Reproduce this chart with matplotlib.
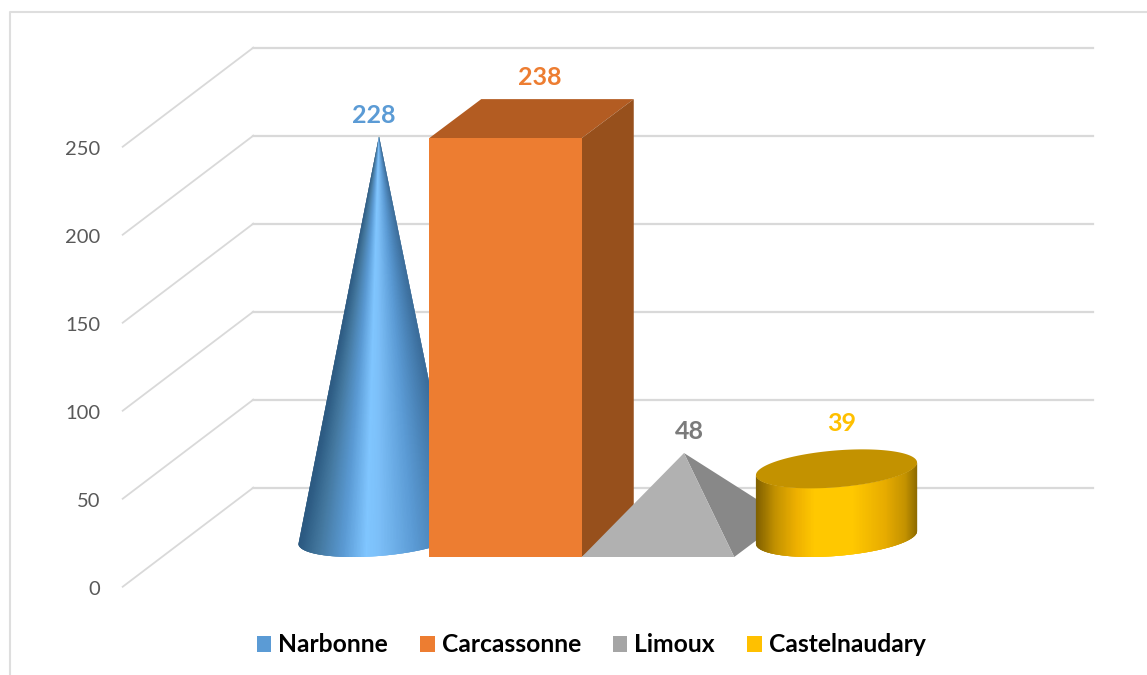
import numpy as np
import matplotlib
matplotlib.use('Agg')
import matplotlib.pyplot as plt
from matplotlib.collections import PolyCollection
from matplotlib.colors import LinearSegmentedColormap
from matplotlib.lines import Line2D
from matplotlib.patches import Patch, Polygon

# data
villes = ['Narbonne', 'Carcassonne', 'Limoux', 'Castelnaudary']
valeurs = [228, 238, 48, 39]
ticks = [0, 50, 100, 150, 200, 250]

# colours
couleurs_legende = ['#5b9bd5', '#ed7d31', '#a5a5a5', '#ffc000']
couleurs_label = ['#5b9bd5', '#ed7d31', '#7b7b7b', '#ffc000']
gris_grille = '#d9d9d9'

W, H = 1147, 675
# pixels for one category / one unit, and where category 0, value 0 falls
PX_CAT, PX_VAL = 152.5, 1.76
X0, Y0 = 353, 557
# depth of the 3d box in data units
DX = 52 / PX_CAT
DY = 39 / PX_VAL

plt.rcParams['font.family'] = ['Lato', 'DejaVu Sans']

fig = plt.figure(figsize=(W / 100, H / 100), dpi=100)
ax = fig.add_axes([0, 0, 1, 1])
ax.set_xlim(-X0 / PX_CAT, (W - X0) / PX_CAT)
ax.set_ylim((Y0 - H) / PX_VAL, Y0 / PX_VAL)
ax.axis('off')

# chart frame, open on the right and the bottom
fig.add_artist(Line2D([10 / W, 10 / W, 1], [0, 1 - 12 / H, 1 - 12 / H], color='#dedede', lw=1.5))

# walls
gx_front = (122.7 - X0) / PX_CAT
gx_back = (253.3 - X0) / PX_CAT
gx_end = (1093 - X0) / PX_CAT
gy_front = -16.9
gy_back = 39.4
for t in ticks:
    ax.plot([gx_front, gx_back], [t + gy_front, t + gy_back], color=gris_grille, lw=1.3, zorder=1)
    ax.plot([gx_back, gx_end], [t + gy_back, t + gy_back], color=gris_grille, lw=1.6, zorder=1)
    ax.annotate(str(t), (gx_front, t + gy_front), xytext=(-16, -2.2), textcoords='offset points',
                ha='right', va='center', fontsize=14.5, color='#595959')


def ellipse(cat, y, t):
    # circle seen in the same oblique view as the box
    return cat + DX / 2 + 0.5 * np.cos(t) + DX / 2 * np.sin(t), y + DY / 2 + DY / 2 * np.sin(t)


cone_cmap = LinearSegmentedColormap.from_list('cone', [
    (0, '#2a5880'), (0.12, '#44789f'), (0.28, '#5b9bd5'), (0.42, '#80c6ff'),
    (0.5, '#7cbff8'), (0.72, '#5b9bd5'), (1, '#3a6c9a')])
cyl_cmap = LinearSegmentedColormap.from_list('cyl', [
    (0, '#806000'), (0.12, '#c39200'), (0.25, '#eeb000'), (0.36, '#ffc800'),
    (0.6, '#ffc800'), (0.8, '#e8ac00'), (0.93, '#c39200'), (1, '#8f6c00')])

t0 = np.arctan2(DX / 2, 0.5)
angles = np.linspace(np.pi + t0, 2 * np.pi + t0, 160)
ex, ey = ellipse(0, 0, angles)
part = (ex - ex.min()) / (ex.max() - ex.min())
part = (part[:-1] + part[1:]) / 2
n = len(angles)

# Narbonne : cone, each piece overlaps the next ones so no seams show
c, v = 0, valeurs[0]
ex, ey = ellipse(c, 0, angles)
tri = [[(c + DX / 2, v + DY / 2)] + list(zip(ex[i:min(i + 4, n)], ey[i:min(i + 4, n)])) for i in range(n - 1)]
ax.add_collection(PolyCollection(tri, facecolors=cone_cmap(part), edgecolors='none', zorder=2))

# Carcassonne : box
c, v = 1, valeurs[1]
g, d = c - 0.5, c + 0.5
ax.add_patch(Polygon([(g, v), (d, v), (d + DX, v + DY), (g + DX, v + DY)], fc='#b35c22', ec='none', zorder=3))
ax.add_patch(Polygon([(d, 0), (d + DX, DY), (d + DX, v + DY), (d, v)], fc='#97501c', ec='none', zorder=3))
ax.add_patch(Polygon([(g, 0), (d, 0), (d, v), (g, v)], fc='#ed7d31', ec='none', zorder=3))

# Limoux : pyramid
c, v = 2, valeurs[2]
g, d = c - 0.5, c + 0.5
sommet = (c + DX / 2, v + DY / 2)
ax.add_patch(Polygon([(d, 0), (d + DX, DY), sommet], fc='#888888', ec='none', zorder=4))
ax.add_patch(Polygon([(g, 0), (d, 0), sommet], fc='#b1b1b1', ec='none', zorder=4))

# Castelnaudary : cylinder, same overlap trick
c, v = 3, valeurs[3]
ex, ey = ellipse(c, 0, angles)
quad = []
for i in range(n - 1):
    j = min(i + 4, n)
    quad.append(list(zip(ex[i:j], ey[i:j])) + list(zip(ex[i:j][::-1], ey[i:j][::-1] + v)))
ax.add_collection(PolyCollection(quad, facecolors=cyl_cmap(part), edgecolors='none', zorder=5))
tx, ty = ellipse(c, v, np.linspace(0, 2 * np.pi, 200))
ax.add_patch(Polygon(np.column_stack([tx, ty]), fc='#c39200', ec='none', zorder=6))

# value labels, offset in points from the top of each shape
tops = [(0 + DX / 2, valeurs[0] + DY / 2), (1 + DX / 2, valeurs[1] + DY),
        (2 + DX / 2, valeurs[2] + DY / 2), (3 + DX / 2, valeurs[3] + DY / 2)]
offsets = [(-3.6, 14.8), (5.8, 15.6), (3.6, 15.3), (3.6, 32.6)]
for i in range(4):
    ax.annotate(str(valeurs[i]), tops[i], xytext=offsets[i], textcoords='offset points',
                ha='center', va='center', fontsize=18, fontweight='bold', color=couleurs_label[i], zorder=7)

handles = [Patch(fc=couleurs_legende[i], ec='none', label=villes[i]) for i in range(4)]
leg = fig.legend(handles=handles, loc='center', bbox_to_anchor=(591 / W, 1 - 645 / H), ncol=4, frameon=False,
                 prop={'size': 17.7, 'weight': 'bold'}, handlelength=0.6, handleheight=0.6,
                 handletextpad=0.28, columnspacing=1.3, borderpad=0, borderaxespad=0)
for txt in leg.get_texts():
    txt.set_color('black')

fig.savefig('out.png', dpi=100)
